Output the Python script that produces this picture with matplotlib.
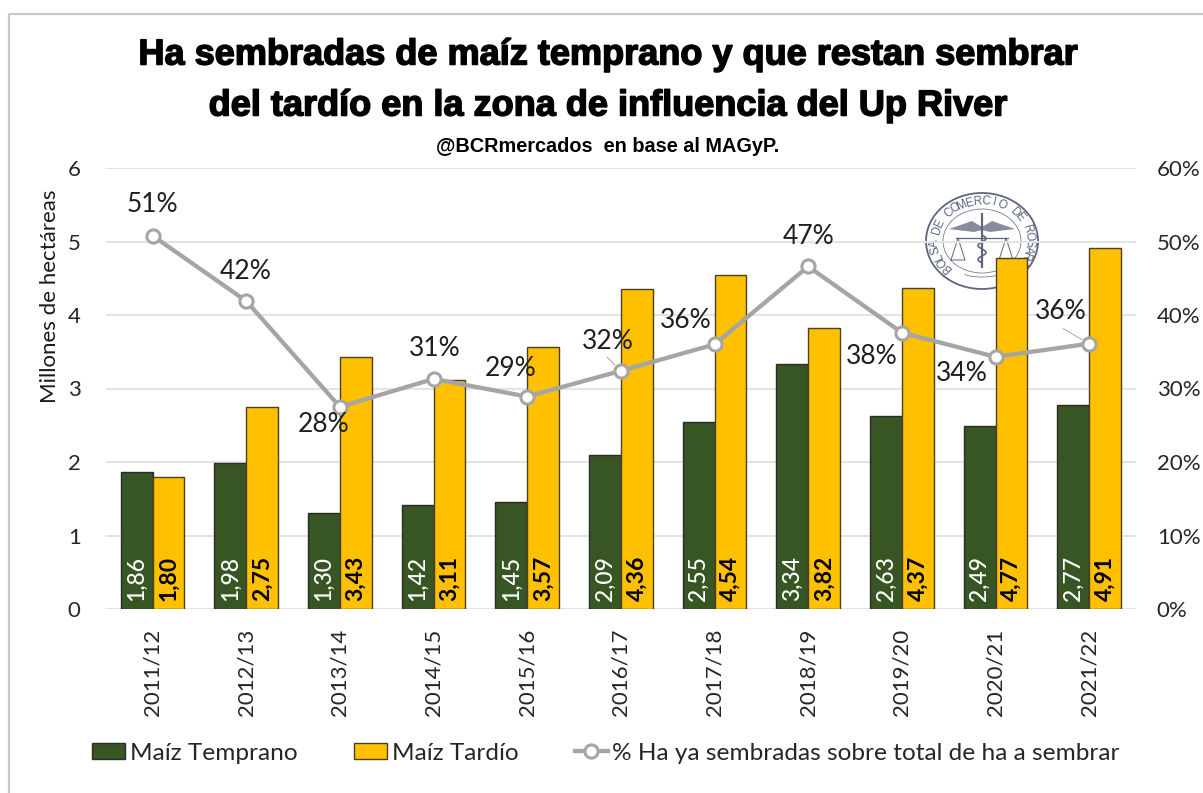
import numpy as np
import matplotlib
matplotlib.use('Agg')
import matplotlib.pyplot as plt
import matplotlib.patheffects as pe
from matplotlib.patches import Patch, Ellipse
from matplotlib.lines import Line2D

# Data
campaigns = ['2011/12', '2012/13', '2013/14', '2014/15', '2015/16', '2016/17',
             '2017/18', '2018/19', '2019/20', '2020/21', '2021/22']
temprano = [1.86, 1.98, 1.30, 1.42, 1.45, 2.09, 2.55, 3.34, 2.63, 2.49, 2.77]
tardio = [1.80, 2.75, 3.43, 3.11, 3.57, 4.36, 4.54, 3.82, 4.37, 4.77, 4.91]
pct_sembrado = [50.8, 41.9, 27.5, 31.3, 28.9, 32.4, 36.0, 46.6, 37.6, 34.3, 36.1]
pct_labels = ['51%', '42%', '28%', '31%', '29%', '32%', '36%', '47%', '38%', '34%', '36%']

# label offsets from each marker, in pixels (x right, y up)
label_offsets = [(0, 31), (-1, 30), (-16, -18), (1, 30), (-17, 28), (-13, 29),
                 (-29, 24), (0, 30), (-30, -24), (-34, -17), (-28, 32)]

W, H = 1203, 793
plt.rcParams['font.family'] = ['Lato', 'DejaVu Sans']

fig = plt.figure(figsize=(W / 100, H / 100), dpi=100)
fig.patch.set_facecolor('white')

# background layer in pixel coordinates: frame + logo
bg = fig.add_axes([0, 0, 1, 1], zorder=0)
bg.set_xlim(0, W)
bg.set_ylim(H, 0)
bg.axis('off')
bg.plot([9, 9, W], [H, 14, 14], color='#c8c8c8', lw=1.6)

logo = '#5d6580'
cx, cy = 982, 241
bg.add_patch(Ellipse((cx, cy), 112, 96, fc='none', ec=logo, lw=1.3))
bg.add_patch(Ellipse((cx, cy), 78, 64, fc='none', ec=logo, lw=0.5))
ring = 'BOLSA DE COMERCIO DE ROSARIO'
angles = np.linspace(222, -42, len(ring))
for ch, a in zip(ring, angles):
    px = cx + 47 * np.cos(np.radians(a))
    py = cy - 39.5 * np.sin(np.radians(a))
    bg.text(px, py, ch, rotation=a - 90, rotation_mode='anchor', ha='center', va='center',
            fontsize=8.5, color=logo, family='Liberation Sans')
# crude caduceus and scales
bg.plot([cx, cx], [cy - 27, cy + 26], color=logo, lw=1.6)
bg.fill([cx - 33, cx - 10, cx, cx + 10, cx + 33, cx + 8, cx, cx - 8],
        [cy - 12, cy - 20, cy - 14, cy - 20, cy - 12, cy - 9, cy - 11, cy - 9], color=logo, alpha=0.75, lw=0)
bg.plot([cx - 26, cx + 26], [cy - 3, cy - 3], color=logo, lw=0.9)
for sx in (-24, 24):
    bg.plot([cx + sx - 7, cx + sx, cx + sx + 7, cx + sx - 7], [cy + 19, cy - 3, cy + 19, cy + 19], color=logo, lw=0.7)
bg.plot(cx + 4 * np.sin(np.linspace(0, 4 * np.pi, 60)), np.linspace(cy - 6, cy + 22, 60), color=logo, lw=1.2)
bg.plot(cx + 18 * np.cos(np.linspace(200, 340, 30) * np.pi / 180), cy + 36 - 4 * np.sin(np.linspace(200, 340, 30) * np.pi / 180) - 4,
        color=logo, lw=0.5)

# main axes
left, right, top, bottom = 105.7, 1136, 168, 609
ax = fig.add_axes([left / W, 1 - bottom / H, (right - left) / W, (bottom - top) / H], zorder=1)
ax.patch.set_alpha(0)
x = np.arange(len(campaigns))
bw = 0.34
ax.bar(x - bw / 2, temprano, bw, color='#375623', edgecolor='#2b2b2b', lw=1, zorder=2)
ax.bar(x + bw / 2, tardio, bw, color='#FFC000', edgecolor='#4a4020', lw=1, zorder=2)

for i in range(len(x)):
    ax.annotate(f'{temprano[i]:.2f}'.replace('.', ','), (x[i] - bw / 2, 0), xytext=(0, 8 * 0.72),
                textcoords='offset points', rotation=90, ha='center', va='bottom',
                color='white', fontsize=16.5, fontweight='medium', zorder=3)
    ax.annotate(f'{tardio[i]:.2f}'.replace('.', ','), (x[i] + bw / 2, 0), xytext=(0, 8 * 0.72),
                textcoords='offset points', rotation=90, ha='center', va='bottom',
                color='black', fontsize=16.5, fontweight='bold', zorder=3)

ax.set_xlim(-0.5, len(x) - 0.5)
ax.set_ylim(0, 6)
ax.set_yticks(range(7))
ax.yaxis.grid(True, color='#e2e2e2', lw=1.3, zorder=0)
ax.set_axisbelow(True)
for s in ax.spines.values():
    s.set_visible(False)
ax.tick_params(axis='both', length=0, labelsize=16, labelcolor='#262626')
ax.tick_params(axis='y', pad=18)
ax.tick_params(axis='x', pad=14)
ax.set_xticks(x)
ax.set_xticklabels(campaigns, rotation=90)
ax.set_ylabel('Millones de hectáreas', fontsize=16, color='#1a1a1a', labelpad=0)
ax.yaxis.set_label_coords((60 - left) / (right - left), (609 - 296) / (bottom - top))

# percentage line on secondary axis
ax2 = ax.twinx()
ax2.set_zorder(2)
ax2.patch.set_alpha(0)
ax2.plot(x, pct_sembrado, color='#a5a5a5', lw=3.1, marker='o', ms=9.5, mfc='white',
         mec='#a5a5a5', mew=2.2, zorder=4)
ax2.set_ylim(0, 60)
ax2.set_yticks(range(0, 61, 10))
ax2.set_yticklabels([f'{v}%' for v in range(0, 61, 10)])
ax2.tick_params(axis='y', length=0, labelsize=16, labelcolor='#262626', pad=15)
for s in ax2.spines.values():
    s.set_visible(False)

for i, lab in enumerate(pct_labels):
    dx, dy = label_offsets[i]
    ax2.annotate(lab, (x[i], pct_sembrado[i]), xytext=(dx * 0.72, dy * 0.72),
                 textcoords='offset points', ha='center', va='center', fontsize=19,
                 color='#1f1f1f', zorder=5)
# thin leader lines
ax2.annotate('', (x[10], pct_sembrado[10]), xytext=(-26 * 0.72, 15 * 0.72), textcoords='offset points',
             arrowprops=dict(arrowstyle='-', color='#a6a6a6', lw=0.7, shrinkA=0, shrinkB=6))
ax2.annotate('', (x[5], pct_sembrado[5]), xytext=(-14 * 0.72, 14 * 0.72), textcoords='offset points',
             arrowprops=dict(arrowstyle='-', color='#a6a6a6', lw=0.7, shrinkA=0, shrinkB=6))

# titles
heavy = [pe.withStroke(linewidth=1.1, foreground='black')]
fig.text(608 / W, 1 - 55 / H, 'Ha sembradas de maíz temprano y que restan sembrar', ha='center', va='center',
         fontsize=26, fontweight='bold', family=['Liberation Sans', 'DejaVu Sans'], color='black', path_effects=heavy)
fig.text(608 / W, 1 - 106 / H, 'del tardío en la zona de influencia del Up River', ha='center', va='center',
         fontsize=26, fontweight='bold', family=['Liberation Sans', 'DejaVu Sans'], color='black', path_effects=heavy)
fig.text(608 / W, 1 - 147 / H, '@BCRmercados  en base al MAGyP.', ha='center', va='center',
         fontsize=14.3, fontweight='bold', family=['Liberation Sans', 'DejaVu Sans'], color='black')

# legend
handles = [Patch(fc='#375623', ec='#2b2b2b', lw=1),
           Patch(fc='#FFC000', ec='#4a4020', lw=1),
           Line2D([], [], color='#a5a5a5', lw=3.1, marker='o', ms=9.5, mfc='white', mec='#a5a5a5', mew=2.2)]
names = ['Maíz Temprano', 'Maíz Tardío', '% Ha ya sembradas sobre total de ha a sembrar']
fig.legend(handles, names, ncol=3, loc='center', bbox_to_anchor=(606 / W, 1 - 753 / H), frameon=False,
           fontsize=17.6, labelcolor='#262626', columnspacing=2.3, handlelength=1.35, handletextpad=0.2,
           handleheight=0.65)

fig.savefig('out.png', dpi=100)
